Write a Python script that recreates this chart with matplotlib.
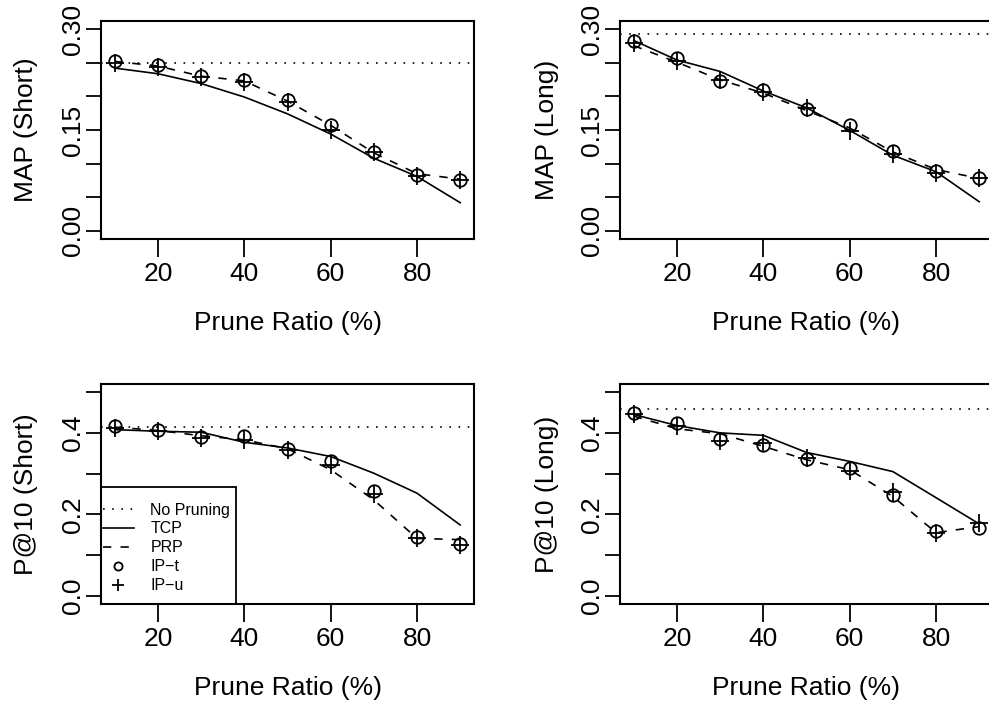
import matplotlib
matplotlib.use("Agg")
import matplotlib.pyplot as plt
from matplotlib.lines import Line2D
from matplotlib.patches import Rectangle

plt.rcParams['font.family'] = ['Liberation Sans', 'DejaVu Sans']

# ---------------- data ----------------
ratio = [10, 20, 30, 40, 50, 60, 70, 80, 90]

map_short_nopr = 0.25
map_short_tcp = [0.242, 0.2336, 0.219, 0.199, 0.174, 0.144, 0.108, 0.081, 0.042]
map_short_prp = [0.252, 0.245, 0.230, 0.223, 0.193, 0.157, 0.116, 0.085, 0.077]
map_short_ipt = [0.2523, 0.2459, 0.230, 0.2237, 0.194, 0.157, 0.1166, 0.083, 0.0756]
map_short_ipu = [0.249, 0.244, 0.229, 0.221, 0.192, 0.1506, 0.117, 0.082, 0.075]

map_long_nopr = 0.293
map_long_tcp = [0.283, 0.254, 0.237, 0.208, 0.183, 0.1495, 0.1125, 0.088, 0.0434]
map_long_prp = [0.2753, 0.2507, 0.2245, 0.2048, 0.179, 0.153, 0.1174, 0.0913, 0.078]
map_long_ipt = [0.2827, 0.257, 0.2235, 0.2097, 0.1816, 0.158, 0.119, 0.0893, 0.078]
map_long_ipu = [0.279, 0.253, 0.2245, 0.206, 0.183, 0.148, 0.115, 0.086, 0.078]

p10_short_nopr = 0.4148
p10_short_tcp = [0.408, 0.404, 0.4016, 0.377, 0.363, 0.342, 0.301, 0.252, 0.174]
p10_short_prp = [0.414, 0.406, 0.393, 0.383, 0.361, 0.3096, 0.2355, 0.141, 0.138]
p10_short_ipt = [0.416, 0.406, 0.390, 0.393, 0.3606, 0.330, 0.258, 0.1438, 0.127]
p10_short_ipu = [0.413, 0.404, 0.388, 0.383, 0.358, 0.322, 0.250, 0.141, 0.125]

p10_long_nopr = 0.4575
p10_long_tcp = [0.445, 0.418, 0.400, 0.394, 0.352, 0.330, 0.305, 0.241, 0.1766]
p10_long_prp = [0.441, 0.410, 0.398, 0.367, 0.334, 0.3096, 0.244, 0.155, 0.170]
p10_long_ipt = [0.449, 0.4246, 0.385, 0.371, 0.336, 0.314, 0.248, 0.158, 0.166]
p10_long_ipu = [0.4475, 0.416, 0.379, 0.375, 0.338, 0.306, 0.256, 0.155, 0.178]

x_ticks = [20, 40, 60, 80]
map_ticks = [0.00, 0.05, 0.10, 0.15, 0.20, 0.25, 0.30]
map_labels = ["0.00", "", "", "0.15", "", "", "0.30"]
p10_ticks = [0.0, 0.1, 0.2, 0.3, 0.4, 0.5]
p10_labels = ["0.0", "", "0.2", "", "0.4", ""]

legend_labels = ["No Pruning", "TCP", "PRP", "IP\u2212t", "IP\u2212u"]

# ---------------- layout ----------------
W, H = 989, 704
fig = plt.figure(figsize=(W / 100, H / 100), dpi=100)

FS = 19
LW = 1.2
DOT = (0, (1, 4.5))
DASH = (0, (5, 5.5))


def add_panel(left, top, right, bottom):
    return fig.add_axes([left / W, 1 - bottom / H, (right - left) / W, (bottom - top) / H])


def draw(ax, nopr, tcp, prp, ipt, ipu, yticks, ylabels, ylim):
    ax.axhline(nopr, color='black', lw=LW, linestyle=DOT)
    ax.plot(ratio, tcp, color='black', lw=LW, linestyle='-')
    ax.plot(ratio, prp, color='black', lw=LW, linestyle=DASH)
    ax.plot(ratio, ipt, linestyle='none', marker='o', markersize=9,
            markerfacecolor='none', markeredgecolor='black', markeredgewidth=1.3)
    ax.plot(ratio, ipu, linestyle='none', marker='+', markersize=12.5,
            markeredgecolor='black', markeredgewidth=1.3)
    span = ylim[1] - ylim[0]
    ax.set_ylim(ylim[0] - 0.04 * span, ylim[1] + 0.04 * span)
    ax.set_xlim(10 - 0.04 * 80, 90 + 0.04 * 80)
    ax.set_xticks(x_ticks)
    ax.set_xticklabels([str(v) for v in x_ticks], fontsize=FS)
    ax.set_yticks(yticks)
    ax.set_yticklabels(ylabels, fontsize=FS, rotation=90, va='center')
    ax.tick_params(axis='x', direction='out', length=13, width=1.3, pad=3.5)
    ax.tick_params(axis='y', direction='out', length=10.8, width=1.3, pad=0.5)
    for s in ax.spines.values():
        s.set_linewidth(1.5)
        s.set_zorder(10)
    ax.set_facecolor('none')


ax1 = add_panel(101, 21, 474, 239)
ax2 = add_panel(620, 21, 993, 239)
ax3 = add_panel(101, 384, 474, 604)
ax4 = add_panel(620, 384, 993, 604)

draw(ax1, map_short_nopr, map_short_tcp, map_short_prp, map_short_ipt, map_short_ipu,
     map_ticks, map_labels, (0.0, 0.3))
draw(ax2, map_long_nopr, map_long_tcp, map_long_prp, map_long_ipt, map_long_ipu,
     map_ticks, map_labels, (0.0, 0.3))
draw(ax3, p10_short_nopr, p10_short_tcp, p10_short_prp, p10_short_ipt, p10_short_ipu,
     p10_ticks, p10_labels, (0.0, 0.5))
draw(ax4, p10_long_nopr, p10_long_tcp, p10_long_prp, p10_long_ipt, p10_long_ipu,
     p10_ticks, p10_labels, (0.0, 0.5))


# axis titles
def ylab(x, ycenter, text):
    fig.text(x / W, 1 - ycenter / H, text, rotation=90, ha='center', va='baseline',
             rotation_mode='anchor', fontsize=FS)


def xlab(xcenter, ybase, text):
    fig.text(xcenter / W, 1 - ybase / H, text, ha='center', va='baseline', fontsize=FS)


ylab(33, 130, "MAP (Short)")
ylab(554, 130, "MAP (Long)")
ylab(33, 494, "P@10 (Short)")
ylab(554, 494, "P@10 (Long)")
xlab(287.5, 330, "Prune Ratio (%)")
xlab(806.5, 330, "Prune Ratio (%)")
xlab(287.5, 695, "Prune Ratio (%)")
xlab(806.5, 695, "Prune Ratio (%)")

# legend (R style box at bottom-left of panel 3)
ax_w, ax_h = 474 - 101, 604 - 384
box = Rectangle((0, 0), 135 / ax_w, (604 - 486.7) / ax_h, transform=ax3.transAxes,
                facecolor='white', edgecolor='black', linewidth=1.3, zorder=5)
ax3.add_patch(box)

handles = [
    Line2D([], [], color='black', lw=LW, linestyle=DOT),
    Line2D([], [], color='black', lw=LW, linestyle='-'),
    Line2D([], [], color='black', lw=LW, linestyle=DASH),
    Line2D([], [], linestyle='none', marker='o', markersize=9, markerfacecolor='none',
           markeredgecolor='black', markeredgewidth=1.3),
    Line2D([], [], linestyle='none', marker='+', markersize=12.5,
           markeredgecolor='black', markeredgewidth=1.3),
]
leg = ax3.legend(handles, legend_labels, loc='upper left',
                 bbox_to_anchor=(1.5 / ax_w, (604 - 502.5) / ax_h),
                 borderaxespad=0, fontsize=11.5, frameon=False,
                 handlelength=2.0, handletextpad=1.0, labelspacing=0.25,
                 borderpad=0, markerscale=0.65)
leg.set_zorder(6)

fig.savefig("out.png", dpi=100)
